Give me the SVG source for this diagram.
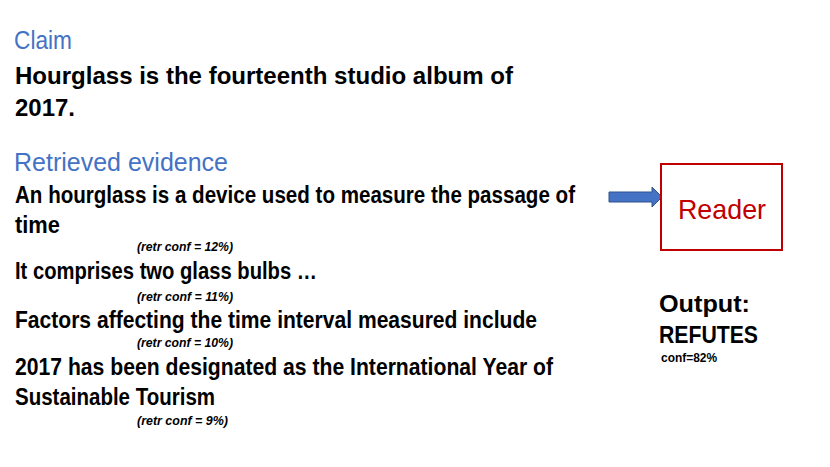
<svg xmlns="http://www.w3.org/2000/svg" width="830" height="467" viewBox="0 0 830 467">
<style>
.hd{font-family:"Liberation Sans",Arial,sans-serif;font-size:25px;fill:#4472C4}
.bd{font-family:"Liberation Sans",Arial,sans-serif;font-size:23.5px;font-weight:bold;fill:#000}
.cf{font-family:"Liberation Sans",Arial,sans-serif;font-size:13px;font-weight:bold;font-style:italic;fill:#000}
.rd{font-family:"Liberation Sans",Arial,sans-serif;font-size:28px;fill:#C00000}
.out{font-family:"Liberation Sans",Arial,sans-serif;font-size:24px;font-weight:bold;fill:#000}
.sm{font-family:"Liberation Sans",Arial,sans-serif;font-size:12px;font-weight:bold;fill:#000}
</style>
<rect width="830" height="467" fill="#fff"/>
<g id="claim">
<text class="hd" x="14" y="49" textLength="58" lengthAdjust="spacingAndGlyphs">Claim</text>
<text class="bd" x="15" y="84" textLength="498" lengthAdjust="spacingAndGlyphs">Hourglass is the fourteenth studio album of</text>
<text class="bd" x="15" y="116" textLength="60" lengthAdjust="spacingAndGlyphs">2017.</text>
</g>
<g id="evidence">
<text class="hd" x="14" y="171" textLength="214" lengthAdjust="spacingAndGlyphs">Retrieved evidence</text>
<text class="bd" x="15" y="203" textLength="560" lengthAdjust="spacingAndGlyphs">An hourglass is a device used to measure the passage of</text>
<text class="bd" x="15" y="233" textLength="45" lengthAdjust="spacingAndGlyphs">time</text>
<text class="cf" x="137" y="251" textLength="96" lengthAdjust="spacingAndGlyphs">(retr conf = 12%)</text>
<text class="bd" x="15" y="279" textLength="302" lengthAdjust="spacingAndGlyphs">It comprises two glass bulbs …</text>
<text class="cf" x="137" y="301" textLength="96" lengthAdjust="spacingAndGlyphs">(retr conf = 11%)</text>
<text class="bd" x="15" y="328" textLength="522" lengthAdjust="spacingAndGlyphs">Factors affecting the time interval measured include</text>
<text class="cf" x="137" y="347" textLength="96" lengthAdjust="spacingAndGlyphs">(retr conf = 10%)</text>
<text class="bd" x="15" y="375" textLength="538" lengthAdjust="spacingAndGlyphs">2017 has been designated as the International Year of</text>
<text class="bd" x="15" y="405" textLength="200" lengthAdjust="spacingAndGlyphs">Sustainable Tourism</text>
<text class="cf" x="137" y="425" textLength="91" lengthAdjust="spacingAndGlyphs">(retr conf = 9%)</text>
</g>
<g id="connectors">
<polygon points="609,192 652,192 652,187 662,197 652,207 652,202 609,202" fill="#4472C4" stroke="#2F528F" stroke-width="1"/>
</g>
<g id="reader">
<rect x="661" y="164" width="121" height="86" fill="#fff" stroke="#C00000" stroke-width="2"/>
<text class="rd" x="722" y="219" text-anchor="middle" textLength="88" lengthAdjust="spacingAndGlyphs">Reader</text>
</g>
<g id="output">
<text class="out" x="659" y="312" textLength="91" lengthAdjust="spacingAndGlyphs">Output:</text>
<text class="out" x="659" y="343" textLength="99" lengthAdjust="spacingAndGlyphs">REFUTES</text>
<text class="sm" x="661" y="362" textLength="56" lengthAdjust="spacingAndGlyphs">conf=82%</text>
</g>
</svg>
